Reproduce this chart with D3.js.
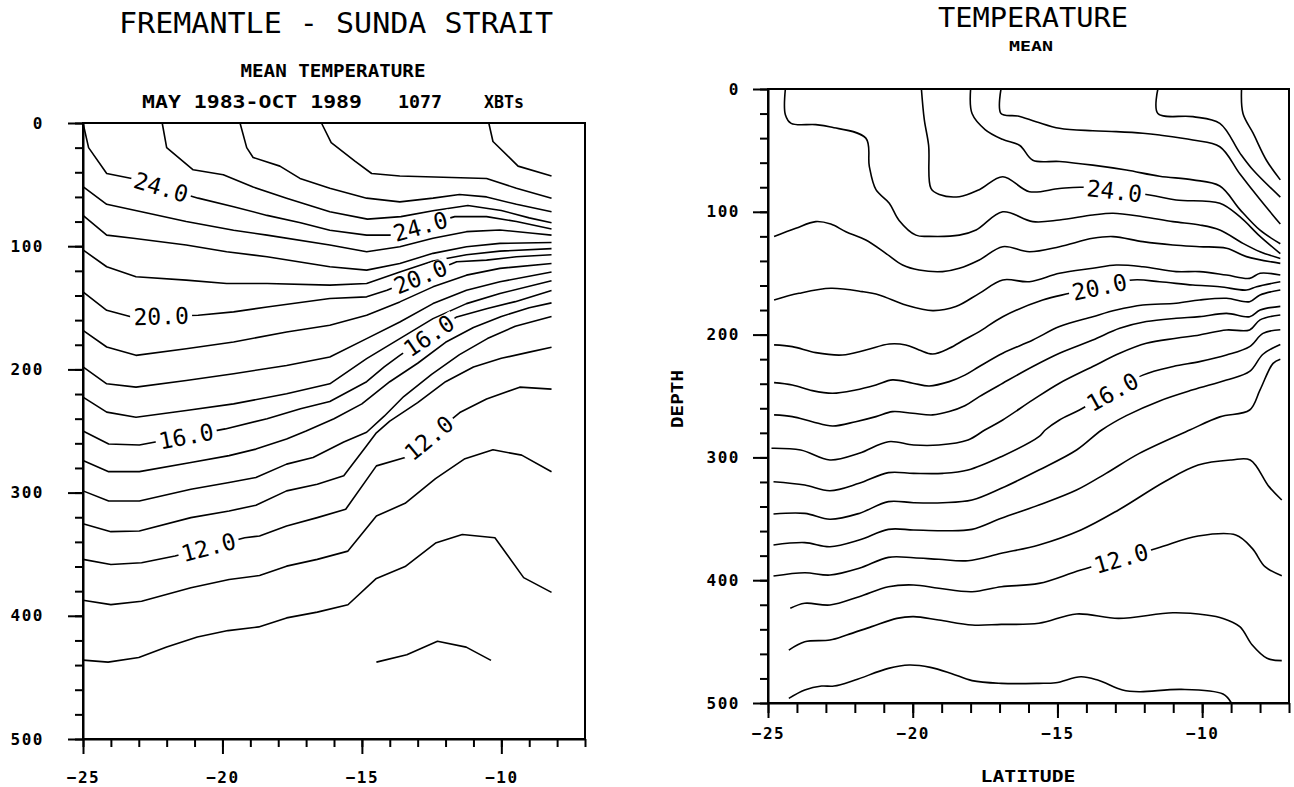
<!DOCTYPE html>
<html>
<head>
<meta charset="utf-8">
<title>Fremantle - Sunda Strait mean temperature</title>
<script src="https://cdn.jsdelivr.net/npm/d3@7"></script>
<style>
  body { margin: 0; background: #fff; }
  text { font-family: "DejaVu Sans Mono", monospace; fill: #000; }
</style>
</head>
<body>
<script>

  // ---- data (latitude, depth) ----
  var depthTicks = [0, 100, 200, 300, 400, 500];
  var depthMinor = d3.range(0, 501, 20);
  var latTicks = [-25, -20, -15, -10];
  var latMinor = d3.range(-25, -6, 1);

  // left panel: XBT section mean temperature
  var fremantleLevels = [28, 27, 26, 25, 24, 23, 22, 21, 20, 19, 18, 17, 16, 15, 14, 13, 12, 11, 10, 9];
  var fremantleLines = [
    [[-10.45,0],[-10.3,15],[-9.4,35],[-8.2,43]],
    [[-16.45,0],[-16.1,16],[-15.25,31],[-14.65,41],[-13.64,43],[-10.53,45],[-9.46,53],[-8.2,61]],
    [[-19.37,0],[-19.13,20],[-18.9,28],[-17.94,35],[-17.22,45],[-16.15,53],[-14.83,61],[-13.64,64],[-12.45,61],[-11.5,58],[-10.53,60],[-9.46,66],[-8.2,72]],
    [[-22.16,0],[-22.0,20],[-21.05,38],[-19.97,42],[-18.9,52],[-17.7,61],[-16.15,72],[-14.8,78],[-13.6,76],[-12.4,71],[-11.2,67],[-10.0,71],[-9.0,77],[-8.2,81]],
    [[-25,0],[-24.8,20],[-24.15,41],[-23.25,45],[-20.87,61],[-19.6,68],[-18.4,75],[-17.2,81],[-16.15,87],[-14.83,91],[-14.0,91],[-11.67,76],[-10.53,76],[-9.46,80],[-8.2,86]],
    [[-25,51.6],[-24.15,66],[-22.7,73],[-21.3,80],[-19.6,87],[-18.4,91],[-16.15,99],[-14.83,104.5],[-13.64,100.4],[-12.45,93.6],[-11.25,88.2],[-10.05,86.8],[-8.87,89.5],[-8.2,91]],
    [[-25,75],[-24.15,91],[-23.2,93.6],[-21.3,99],[-19.85,104.5],[-18.4,108.6],[-16.15,116.7],[-14.83,119.4],[-13.64,114],[-12.45,105.8],[-11.25,100.4],[-10.05,97.7],[-8.2,97]],
    [[-25,103],[-24.15,116.7],[-23.1,124.8],[-21.3,127.5],[-19.85,130.3],[-18.4,130.3],[-16.15,131.6],[-14.83,130.3],[-13.64,121],[-12.45,112],[-11.25,107],[-10.05,104],[-8.2,102]],
    [[-25,137],[-24.15,152],[-23.25,157.4],[-20.87,156],[-19.6,153.3],[-18.4,149.3],[-16.15,142.5],[-14.83,141.1],[-14.1,135.7],[-11.6,112.6],[-10.53,111.3],[-9.46,108.6],[-8.2,107]],
    [[-25,168.3],[-24.15,181.8],[-23.1,188.6],[-21.3,183.2],[-19.6,177.8],[-17.7,169.6],[-16.15,164.2],[-14.83,156],[-13.64,145.2],[-12.45,133],[-11.25,123.5],[-10.05,118],[-8.2,114]],
    [[-25,198],[-24.15,211.7],[-23.1,214.4],[-21.3,209],[-19.6,203.5],[-17.7,196.8],[-16.15,190],[-14.83,175],[-13.64,161.5],[-12.45,146.6],[-11.25,135.7],[-10.05,128.9],[-8.2,121]],
    [[-25,222.5],[-24.15,234.7],[-23.1,238.8],[-21.3,233.4],[-19.6,228],[-17.7,219.8],[-16.15,211.7],[-14.83,191.3],[-13.64,175],[-12.45,158.8],[-11.25,146.6],[-10.05,138.4],[-8.2,128]],
    [[-25,250],[-24.08,260.6],[-22.98,261.4],[-19.9,248.3],[-18.4,240],[-17.2,232],[-16.15,226],[-14.83,210],[-14.2,198],[-13.64,188.6],[-11.6,157.4],[-10.5,150.6],[-9.5,145],[-8.2,136]],
    [[-25,274],[-24.08,283],[-22.98,283],[-21.13,275.5],[-19.76,270],[-18.8,264.7],[-17.7,256.5],[-17,250],[-16,240],[-15,228],[-14,210],[-13,195],[-12,178],[-11,166],[-10,157],[-9,150],[-8.2,146]],
    [[-25,298.6],[-24.08,306.8],[-22.98,306.8],[-21.13,297.3],[-19.76,291.8],[-18.8,287.8],[-17.7,276.9],[-16.75,271.5],[-15.65,259],[-14.83,251],[-14.2,238],[-13.5,222],[-12.5,204],[-11.5,188],[-10.5,175],[-9.5,165],[-8.2,157]],
    [[-25,325.2],[-24,331.7],[-22.98,331.2],[-21.13,320.3],[-19.76,314.9],[-18.8,310.3],[-17.7,298.6],[-16.6,293.2],[-15.65,286.4],[-14.83,262],[-14.5,252],[-14,242],[-13,227],[-12,210],[-11,198],[-10,191],[-9,186],[-8.2,182]],
    [[-25,354.2],[-24,358.3],[-22.9,357],[-21.7,351.5],[-19.2,336.6],[-18.67,335.2],[-17.7,327.1],[-16.6,320.3],[-15.58,313.5],[-14.48,278.3],[-13.45,271.5],[-11.49,235],[-10.53,224],[-9.34,214.4],[-8.2,216]],
    [[-25,387.4],[-24,390.9],[-22.9,388.2],[-21.13,377.3],[-19.76,370.5],[-18.67,367.3],[-17.7,359.7],[-16.6,354.2],[-15.5,347.5],[-14.48,319],[-13.45,308.7],[-12.36,288.6],[-11.33,272.8],[-10.3,265.2],[-9.27,269.6],[-8.2,283.1]],
    [[-25,436],[-24.1,437.6],[-23,433.8],[-22,425.4],[-20.9,417.2],[-19.8,412],[-18.7,409],[-17.7,401.7],[-16.6,397],[-15.5,391],[-14.5,370],[-13.45,360],[-12.36,341],[-11.4,334],[-10.23,336.6],[-9.2,369],[-8.2,381]],
    [[-14.48,437.6],[-13.39,431.6],[-12.29,420.7],[-11.26,425.4],[-10.37,436.2]]
  ];
  // contour labels: [level, latitude]
  var fremantleLabels = [[24,-22.2],[24,-12.9],[20,-22.2],[20,-12.9],[16,-21.3],[16,-12.6],[12,-20.5],[12,-12.6]];

  // right panel: mean temperature
  var meanLevels = [28, 27, 26, 25, 24, 23, 22, 21, 20, 19, 18, 17, 16, 15, 14, 13, 12, 11, 10];
  var meanLines = [
    [[-8.64,0],[-8.59,20],[-8.24,36],[-7.78,58],[-7.3,74]],
    [[-11.53,0],[-11.53,20],[-10.32,22.5],[-9.39,28],[-8.7,52],[-8.24,66],[-7.3,88]],
    [[-16.95,0],[-16.95,20],[-16.37,22],[-15.74,26.6],[-14.93,32],[-13.78,34],[-12.97,34.7],[-12.05,36],[-11.47,37.5],[-10.32,41.5],[-9.39,47],[-8.7,69],[-8.0,90],[-7.3,110]],
    [[-18.0,0],[-17.95,20],[-17.5,33],[-16.9,41],[-16.3,46],[-15.85,58],[-14.93,59],[-13.78,62],[-12.62,66],[-11.47,71],[-10.32,74],[-9.39,79],[-8.7,98],[-8.0,115],[-7.3,126]],
    [[-19.7,0],[-19.6,25],[-19.45,46],[-19.37,81],[-19.08,86],[-18.39,87.7],[-17.7,82],[-16.89,71.4],[-15.97,83.6],[-14.93,81],[-14.12,80],[-11.82,86.3],[-10.9,90.4],[-9.39,93],[-8.7,104],[-8.0,120],[-7.3,134]],
    [[-24.4,0],[-24.4,21],[-24.2,28],[-23.35,29],[-22.83,31],[-21.62,40],[-21.5,63],[-21.27,82],[-20.81,93],[-20.47,107],[-19.89,119],[-19.43,120],[-18.39,119],[-17.81,114.8],[-16.89,100],[-15.85,108],[-14.93,106.7],[-13.78,102.6],[-13.08,101.2],[-12.05,104],[-11.01,108],[-10.09,110.7],[-9.39,114.8],[-8.59,125.7],[-8.0,132.5],[-7.3,138]],
    [[-24.79,120.2],[-24.04,113.4],[-23.35,108],[-22.83,110],[-22.31,116.2],[-21.62,123],[-20.93,133.8],[-20.35,143.3],[-19.78,147.4],[-18.97,148.7],[-18.39,146],[-17.7,139.2],[-16.89,128.4],[-15.97,132.5],[-14.93,128.4],[-13.78,121.6],[-13.08,120.2],[-12.05,124.3],[-11.01,127],[-10.09,128.4],[-9.16,129.7],[-8.47,136.5],[-7.3,142]],
    [[-24.79,171.8],[-23.93,166.4],[-22.83,162.3],[-21.74,165],[-21.16,167.7],[-20.24,175.9],[-19.31,180.5],[-18.51,177.2],[-17.7,166.4],[-16.89,155.5],[-15.97,156.9],[-14.93,150.1],[-13.78,146],[-12.97,143.3],[-12.05,144.7],[-10.9,148.7],[-10.09,148.7],[-9.16,151.5],[-8.36,154.2],[-8.0,150],[-7.3,151.5]],
    [[-24.79,208.4],[-24.16,209.8],[-23.35,214.7],[-22.43,216.6],[-21.62,212.5],[-20.81,207.6],[-20.24,208.4],[-19.78,212.5],[-19.31,215.8],[-18.74,211.2],[-18.2,204],[-17.7,197.6],[-16.89,185.4],[-15.51,171.8],[-14.58,166.4],[-12.39,155.5],[-11.47,157],[-10.32,159.6],[-9.39,161],[-8.47,163.7],[-8.12,161],[-7.3,157]],
    [[-24.79,239.1],[-24.16,241],[-23.47,245.6],[-22.77,247.8],[-21.97,245.1],[-21.27,241],[-20.7,236.9],[-20.0,239.6],[-19.43,241.8],[-18.74,238.3],[-18.2,233],[-17.7,226],[-16.89,215.2],[-15.85,204.4],[-14.93,193.5],[-13.78,185.4],[-12.97,180],[-12.05,175.9],[-10.9,174.5],[-10.09,171.8],[-9.16,170.4],[-8.36,173.2],[-8.0,167.7],[-7.3,163.7]],
    [[-24.79,265.4],[-24.16,266.8],[-23.47,270.9],[-22.77,274.4],[-21.97,270.9],[-21.27,266.8],[-20.7,262.7],[-20.0,264.1],[-19.31,265.4],[-18.74,262.7],[-18.2,258],[-17.7,250.5],[-16.89,239.6],[-15.85,226],[-14.93,215.2],[-13.78,204.4],[-12.85,194.9],[-11.93,189.4],[-10.9,186.7],[-10.09,185.4],[-9.16,182.7],[-8.36,185.4],[-8.0,180],[-7.3,177]],
    [[-24.88,292.6],[-23.87,294],[-22.86,302.1],[-21.85,296.7],[-20.84,287.2],[-19.97,289.9],[-19.1,289.9],[-18.09,285.8],[-17.51,277.7],[-16.89,269.5],[-15.85,253.2],[-14.93,239.6],[-13.78,226],[-12.85,215.2],[-11.93,207.1],[-10.9,203],[-10.09,200.3],[-9.16,196.2],[-8.36,196.2],[-8.0,188],[-7.3,184]],
    [[-24.81,319.8],[-23.73,322.5],[-22.86,327.1],[-21.85,321.1],[-20.84,312.4],[-19.97,313],[-18.96,313],[-18.09,310.3],[-16.94,299.4],[-15.64,283.1],[-15.42,277.7],[-14.93,269.5],[-14.24,261.4],[-12.05,233],[-11.0,226],[-10.09,222],[-9.16,216.6],[-8.36,209.8],[-7.9,199],[-7.3,196]],
    [[-24.81,346.1],[-23.73,345.6],[-22.86,350.4],[-21.85,345.6],[-20.84,336],[-19.97,336.9],[-18.96,336.9],[-17.95,334.7],[-16.94,325.2],[-15.64,310.3],[-14.34,294],[-13.47,277.7],[-12.62,266],[-11.47,254],[-10.32,245],[-9.16,237],[-8.36,230],[-7.9,216],[-7.3,208]],
    [[-24.81,371.3],[-23.73,369.4],[-22.86,372.7],[-21.85,367.3],[-20.84,358.6],[-19.97,359.1],[-18.96,359.7],[-17.95,358.6],[-16.94,349.6],[-15.64,338.8],[-14.34,326.6],[-13.32,313],[-12.17,296.7],[-10.43,277.7],[-9.39,267],[-8.36,261.4],[-8.0,245],[-7.55,223.4],[-7.3,220]],
    [[-24.81,396.6],[-23.73,393.9],[-22.86,395.8],[-21.85,390.3],[-20.84,381.4],[-19.97,381.7],[-19.1,383],[-18.09,384.1],[-16.94,378.1],[-15.64,371.3],[-14.19,359.1],[-12.89,342.8],[-11.3,319.8],[-10.14,306.2],[-8.99,302.1],[-8.34,302.1],[-7.69,323.8],[-7.25,334.7]],
    [[-24.23,422.9],[-23.73,418.8],[-22.86,420.2],[-21.85,413.4],[-20.84,405.3],[-19.97,403.9],[-19.1,406.6],[-17.95,409.4],[-16.94,405.3],[-15.64,402.6],[-14.19,391.7],[-11.59,374.1],[-10.14,364],[-8.84,363.2],[-8.27,374.1],[-7.83,389],[-7.25,396.3]],
    [[-24.28,456.9],[-23.73,450.1],[-22.86,448.7],[-22.28,444.6],[-21.42,437.8],[-20.55,431.1],[-19.97,429.7],[-19.1,432.4],[-17.95,436.5],[-16.94,436],[-15.64,435.1],[-14.34,427.5],[-12.89,431.1],[-11.01,426.5],[-9.86,428.3],[-9.28,431.1],[-8.7,437.8],[-8.27,452.8],[-7.76,463.6],[-7.25,465.5]],
    [[-24.28,496.2],[-23.73,489.4],[-23.15,486.2],[-22.72,486.2],[-21.99,481.3],[-20.84,471.8],[-20.12,469.1],[-19.39,471],[-18.67,475.9],[-17.95,481.8],[-16.94,484],[-15.64,484],[-15.06,483.5],[-14.19,478.6],[-13.61,481.3],[-12.75,489.4],[-12.17,490.8],[-10.72,488.9],[-9.28,492.7],[-8.99,500]]
  ];
  var meanLabels = [[24,-13.03],[20,-13.55],[16,-13.1],[12,-12.8]];

  var w = 1294, h = 787;

  var svg = d3.select("body").append("svg")
      .attr("width", w)
      .attr("height", h);

  svg.append("rect")
    .attr("width", w)
    .attr("height", h)
    .attr("fill", "white");

  function drawPanel(p, levels, lines, labels, curve) {
    var x = d3.scaleLinear().domain([-25, -7]).range([p.left, p.right]);
    var y = d3.scaleLinear().domain([0, 500]).range([p.top, p.bottom]);

    var line = d3.line()
        .x(d => x(d[0]))
        .y(d => y(d[1]))
        .curve(curve);

    var g = svg.append("g");

    g.selectAll("path.iso")
      .data(lines)
      .enter().append("path")
        .attr("class", "iso")
        .attr("d", line)
        .attr("fill", "none")
        .attr("stroke", "black")
        .attr("stroke-width", 1.6)
        .attr("stroke-linejoin", "round");

    // labels sit on their isotherm, turned along it
    labels.forEach(function(l) {
      var pts = lines[levels.indexOf(l[0])];
      for (var i = 0; i < pts.length - 1; i++) {
        var a = pts[i], b = pts[i + 1];
        if (b[0] > a[0] && l[1] >= a[0] && l[1] <= b[0]) {
          var t = (l[1] - a[0]) / (b[0] - a[0]);
          var dep = a[1] + t * (b[1] - a[1]);
          var ang = Math.atan2(y(b[1]) - y(a[1]), x(b[0]) - x(a[0])) * 180 / Math.PI;
          var lg = g.append("g")
            .attr("transform", `translate(${x(l[1])},${y(dep)}) rotate(${ang})`);
          lg.append("rect")
            .attr("x", -31).attr("y", -9)
            .attr("width", 62).attr("height", 18)
            .attr("fill", "white");
          lg.append("text")
            .attr("text-anchor", "middle")
            .attr("dy", "0.36em")
            .attr("font-size", 23)
            .text(d3.format(".1f")(l[0]));
          break;
        }
      }
    });

    // axes
    var yMinor = svg.append("g")
        .attr("transform", `translate(${p.left},0)`)
        .call(d3.axisLeft(y).tickValues(depthMinor).tickSize(8).tickSizeOuter(0).tickFormat(""));
    yMinor.select(".domain").remove();

    var yAxis = svg.append("g")
        .attr("transform", `translate(${p.left},0)`)
        .call(d3.axisLeft(y).tickValues(depthTicks).tickSize(15).tickSizeOuter(0)
          .tickPadding(p.yPad).tickFormat(d3.format("d")));

    var xMinor = svg.append("g")
        .attr("transform", `translate(0,${p.bottom})`)
        .call(d3.axisBottom(x).tickValues(latMinor).tickSize(p.xMinor).tickSizeOuter(0).tickFormat(""));
    xMinor.select(".domain").remove();

    var xAxis = svg.append("g")
        .attr("transform", `translate(0,${p.bottom})`)
        .call(d3.axisBottom(x).tickValues(latTicks).tickSize(15).tickSizeOuter(0)
          .tickPadding(p.xPad).tickFormat(d3.format("d")));

    [yMinor, yAxis, xMinor, xAxis].forEach(function(a) {
      a.selectAll("line").attr("stroke-width", 2);
      a.selectAll(".domain").attr("stroke-width", 2);
      a.selectAll("text")
        .attr("font-family", "DejaVu Sans Mono, monospace")
        .attr("font-size", 16)
        .attr("font-weight", "bold")
        .attr("letter-spacing", 1.5);
    });

    svg.append("rect")
      .attr("x", p.left).attr("y", p.top)
      .attr("width", p.right - p.left)
      .attr("height", p.bottom - p.top)
      .attr("fill", "none")
      .attr("stroke", "black")
      .attr("stroke-width", 2);
  }

  drawPanel({left: 83, right: 585, top: 123, bottom: 739, yPad: 24, xPad: 18, xMinor: 8},
            fremantleLevels, fremantleLines, fremantleLabels, d3.curveLinear);
  drawPanel({left: 768, right: 1289, top: 89, bottom: 703, yPad: 13, xPad: 10, xMinor: 10},
            meanLevels, meanLines, meanLabels, d3.curveCatmullRom.alpha(0.5));

  // titles
  function addText(tx, ty, str, size, len, weight, anchor) {
    return svg.append("text")
      .attr("x", tx).attr("y", ty)
      .attr("font-size", size)
      .attr("font-weight", weight || "normal")
      .attr("text-anchor", anchor || "middle")
      .attr("textLength", len)
      .attr("lengthAdjust", "spacingAndGlyphs")
      .text(str);
  }

  addText(336, 33, "FREMANTLE - SUNDA STRAIT", 29, 434);
  addText(333, 77, "MEAN TEMPERATURE", 17, 185, "bold");
  addText(142, 108, "MAY 1983-OCT 1989", 17, 220, "bold", "start");
  addText(398, 108, "1077", 17, 44, "bold", "start");
  addText(484, 108, "XBTs", 17, 40, "bold", "start");

  addText(1033, 27, "TEMPERATURE", 27, 190);
  addText(1031, 51, "MEAN", 14, 44, "bold");
  addText(1028, 782, "LATITUDE", 16, 95, "bold");
  addText(0, 0, "DEPTH", 15, 58, "bold")
    .attr("transform", "translate(683,399) rotate(-90)");

</script>
</body>
</html>
